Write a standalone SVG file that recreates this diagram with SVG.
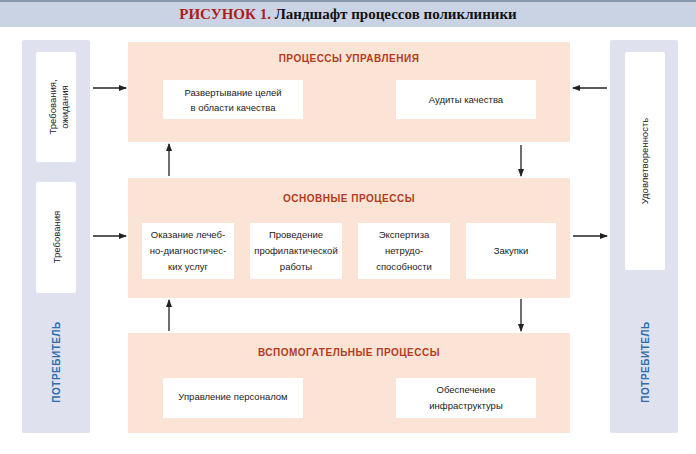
<svg xmlns="http://www.w3.org/2000/svg" width="696" height="454" viewBox="0 0 696 454">
<style>
text{font-family:"Liberation Sans",Arial,sans-serif}
.col{fill:#dfe1ee}
.wb{fill:#fff}
.pb{fill:#fbe3d6}
.t{font-size:9.5px;fill:#222;text-anchor:middle}
.h{font-size:10px;font-weight:bold;fill:#b13c1c;text-anchor:middle;letter-spacing:0.5px}
.c{font-size:10px;font-weight:bold;fill:#2b6fb0;text-anchor:middle;letter-spacing:0.5px}
.a{stroke:#222;stroke-width:1.3;fill:none;marker-end:url(#ah)}
</style>
<defs><marker id="ah" markerWidth="8" markerHeight="6" refX="7" refY="3" orient="auto" markerUnits="userSpaceOnUse"><path d="M0,0L8,3L0,6z" fill="#222"/></marker></defs>
<rect width="696" height="454" fill="#fff"/>
<g id="title"><rect x="0" y="0" width="696" height="27" fill="#c9d3e3"/><rect x="0" y="0" width="696" height="2" fill="#8896ac"/>
<text x="348" y="19" text-anchor="middle" style="font-family:'Liberation Serif',serif;font-size:15px;font-weight:bold"><tspan fill="#b01c1c">РИСУНОК 1.</tspan><tspan fill="#111"> Ландшафт процессов поликлиники</tspan></text></g>
<g id="left"><rect class="col" x="22" y="40" width="68" height="393" rx="2"/>
<rect class="wb" x="36" y="52" width="40" height="110" rx="2"/><rect class="wb" x="36" y="182" width="40" height="111" rx="2"/>
<text class="t" transform="translate(59,107) rotate(-90)"><tspan x="0" y="-3">Требования,</tspan><tspan x="0" y="9">ожидания</tspan></text>
<text class="t" transform="translate(60,237) rotate(-90)">Требования</text>
<text class="c" transform="translate(60,362) rotate(-90)">ПОТРЕБИТЕЛЬ</text></g>
<g id="right"><rect class="col" x="610" y="40" width="68" height="393" rx="2"/>
<rect class="wb" x="625" y="52" width="40" height="218" rx="2"/>
<text class="t" transform="translate(648,161) rotate(-90)">Удовлетворенность</text>
<text class="c" transform="translate(649,362) rotate(-90)">ПОТРЕБИТЕЛЬ</text></g>
<g id="mgmt"><rect class="pb" x="128" y="42" width="442" height="100"/>
<text class="h" x="349" y="62">ПРОЦЕССЫ УПРАВЛЕНИЯ</text>
<rect class="wb" x="163" y="80" width="140" height="39"/><text class="t" x="233" y="96">Развертывание целей</text><text class="t" x="233" y="111">в области качества</text>
<rect class="wb" x="396" y="80" width="140" height="39"/><text class="t" x="466" y="103">Аудиты качества</text></g>
<g id="core"><rect class="pb" x="128" y="178" width="442" height="120"/>
<text class="h" x="349" y="202">ОСНОВНЫЕ ПРОЦЕССЫ</text>
<rect class="wb" x="142" y="223" width="92" height="56"/><text class="t" x="188" y="238">Оказание лечеб-</text><text class="t" x="188" y="254">но-диагностичес-</text><text class="t" x="188" y="270">ких услуг</text>
<rect class="wb" x="250" y="223" width="92" height="56"/><text class="t" x="296" y="238">Проведение</text><text class="t" x="296" y="254">профилактической</text><text class="t" x="296" y="270">работы</text>
<rect class="wb" x="358" y="223" width="92" height="56"/><text class="t" x="404" y="238">Экспертиза</text><text class="t" x="404" y="254">нетрудо-</text><text class="t" x="404" y="270">способности</text>
<rect class="wb" x="466" y="223" width="90" height="56"/><text class="t" x="511" y="254">Закупки</text></g>
<g id="support"><rect class="pb" x="128" y="333" width="442" height="100"/>
<text class="h" x="349" y="356">ВСПОМОГАТЕЛЬНЫЕ ПРОЦЕССЫ</text>
<rect class="wb" x="163" y="378" width="140" height="40"/><text class="t" x="233" y="400">Управление персоналом</text>
<rect class="wb" x="396" y="378" width="140" height="40"/><text class="t" x="466" y="393">Обеспечение</text><text class="t" x="466" y="409">инфраструктуры</text></g>
<g id="connectors">
<line class="a" x1="93" y1="88" x2="126" y2="88"/>
<line class="a" x1="93" y1="236" x2="126" y2="236"/>
<line class="a" x1="607" y1="88" x2="573" y2="88"/>
<line class="a" x1="573" y1="236" x2="607" y2="236"/>
<line class="a" x1="169" y1="176" x2="169" y2="144"/>
<line class="a" x1="169" y1="331" x2="169" y2="300"/>
<line class="a" x1="521" y1="145" x2="521" y2="176"/>
<line class="a" x1="521" y1="299" x2="521" y2="331"/>
</g>
</svg>
